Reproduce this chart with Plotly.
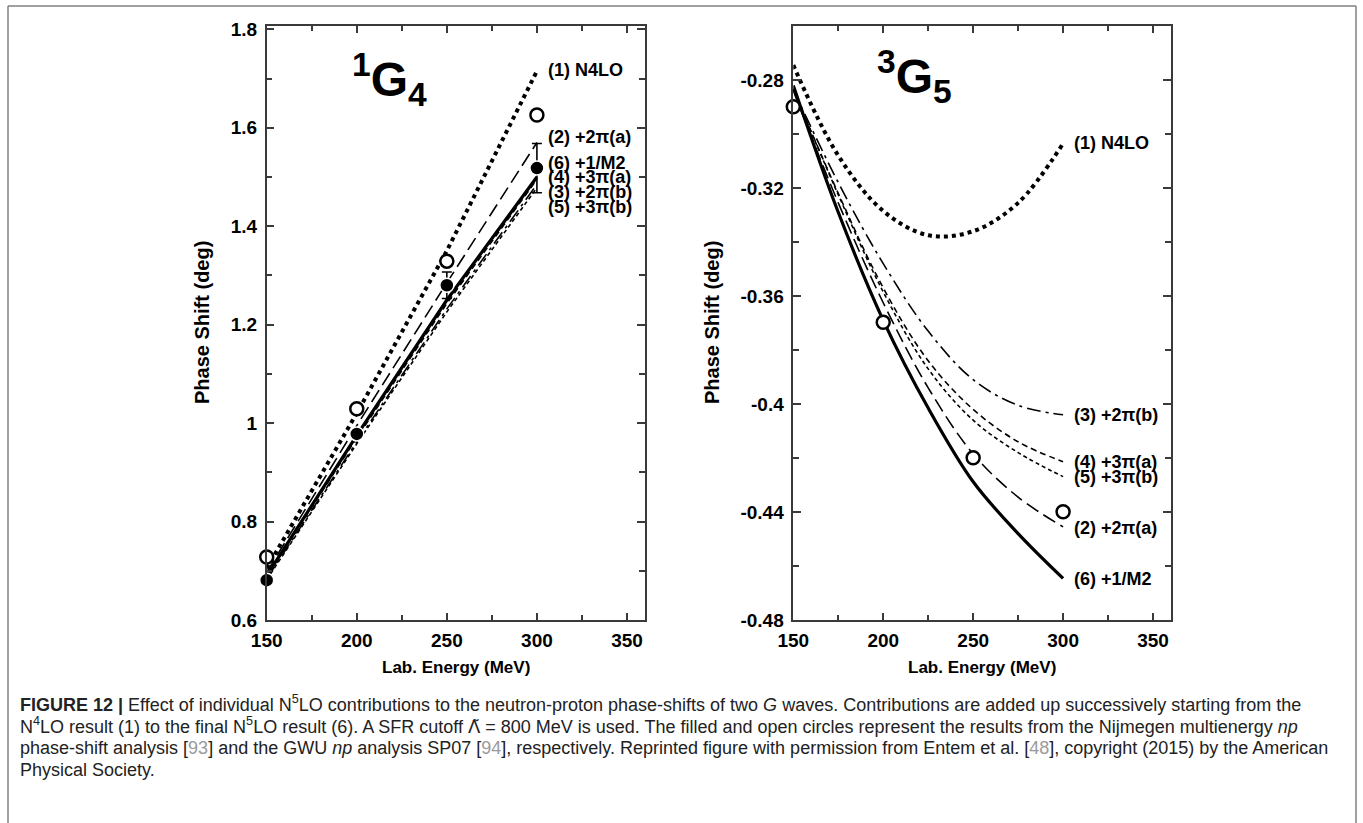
import plotly.graph_objects as go

W, H = 1363, 823

# ---------------- data ----------------
# 1G4 panel (left)
E_g4 = [150, 200, 250, 300]
g4_n4lo = [0.705, 1.02, 1.35, 1.715]
g4_2pia = [0.697, 0.995, 1.285, 1.57]
g4_2pib = [0.684, 0.962, 1.232, 1.485]
g4_3pia = [0.688, 0.970, 1.243, 1.495]
g4_3pib = [0.682, 0.958, 1.226, 1.478]
g4_m2 = [0.690, 0.975, 1.250, 1.500]
g4_open = [0.728, 1.029, 1.329, 1.626]
g4_filled = [0.681, 0.978, 1.280, 1.518]
g4_filled_err = [0.0, 0.0, 0.027, 0.05]

# 3G5 panel (right)
E_g5 = [150, 175, 200, 225, 250, 275, 300]
g5_n4lo = [-0.2745, -0.308, -0.3285, -0.3375, -0.336, -0.3255, -0.3035]
g5_2pia = [-0.284, -0.3255, -0.3625, -0.394, -0.4185, -0.4345, -0.4455]
g5_2pib = [-0.2835, -0.318, -0.348, -0.373, -0.391, -0.4005, -0.404]
g5_3pia = [-0.2835, -0.322, -0.357, -0.384, -0.402, -0.414, -0.4214]
g5_3pib = [-0.2835, -0.3225, -0.3585, -0.387, -0.406, -0.418, -0.4269]
g5_m2 = [-0.282, -0.329, -0.369, -0.4015, -0.4288, -0.448, -0.4646]
E_pts = [150, 200, 250, 300]
g5_open = [-0.2899, -0.3697, -0.4199, -0.4399]

# curve labels
g4_labels = ["(1) N4LO", "(2) +2π(a)", "(6) +1/M2", "(4) +3π(a)", "(3) +2π(b)", "(5) +3π(b)"]
g4_label_y = [1.717, 1.582, 1.528, 1.499, 1.470, 1.440]
g5_labels = ["(1) N4LO", "(3) +2π(b)", "(4) +3π(a)", "(5) +3π(b)", "(2) +2π(a)", "(6) +1/M2"]
g5_label_y = [-0.3035, -0.404, -0.4214, -0.4269, -0.446, -0.4649]

x_ticks = [150, 200, 250, 300, 350]
g4_yticks = [0.6, 0.8, 1.0, 1.2, 1.4, 1.6, 1.8]
g4_yticktext = ["0.6", "0.8", "1", "1.2", "1.4", "1.6", "1.8"]
g5_yticks = [-0.48, -0.44, -0.40, -0.36, -0.32, -0.28]
g5_yticktext = ["-0.48", "-0.44", "-0.4", "-0.36", "-0.32", "-0.28"]

GRAY = "<span style='color:#9a9a9a'>{}</span>"
LAM = "<span style='font-family:DejaVu Sans'>Λ\u0303</span>"
caption_lines = [
    "<b>FIGURE 12 |</b> Effect of individual N<sup>5</sup>LO contributions to the neutron-proton phase-shifts of two <i>G</i> waves. Contributions are added up successively starting from the",
    "N<sup>4</sup>LO result (1) to the final N<sup>5</sup>LO result (6). A SFR cutoff " + LAM + " = 800 MeV is used. The filled and open circles represent the results from the Nijmegen multienergy <i>np</i>",
    "phase-shift analysis [" + GRAY.format("93") + "] and the GWU <i>np</i> analysis SP07 [" + GRAY.format("94") + "], respectively. Reprinted figure with permission from Entem et al. [" + GRAY.format("48") + "], copyright (2015) by the American",
    "Physical Society.",
]

# ---------------- layout helpers ----------------
def px_x(p):
    return p / W

def px_y(p):
    return 1 - p / H

FONT = "Liberation Sans, Arial, Helvetica, sans-serif"
AX = "#3a3a3a"

styles = {
    "n4lo": dict(color="black", width=4, dash="4px,4px"),
    "2pia": dict(color="black", width=1.6, dash="14px,6px"),
    "2pib": dict(color="black", width=1.6, dash="14px,5px,3px,5px"),
    "3pia": dict(color="black", width=1.6, dash="6px,4px"),
    "3pib": dict(color="black", width=1.6, dash="4px,3px"),
    "m2": dict(color="black", width=3.2),
}

fig = go.Figure()

def add_line(x, y, key, xa, ya, shape="linear"):
    fig.add_trace(go.Scatter(x=x, y=y, mode="lines", line=dict(shape=shape, **styles[key]),
                             xaxis=xa, yaxis=ya, showlegend=False, hoverinfo="skip"))

# left panel
add_line(E_g4, g4_n4lo, "n4lo", "x", "y")
add_line(E_g4, g4_2pia, "2pia", "x", "y")
add_line(E_g4, g4_2pib, "2pib", "x", "y")
add_line(E_g4, g4_3pia, "3pia", "x", "y")
add_line(E_g4, g4_3pib, "3pib", "x", "y")
add_line(E_g4, g4_m2, "m2", "x", "y")
fig.add_trace(go.Scatter(x=E_g4, y=g4_filled, mode="markers", xaxis="x", yaxis="y", cliponaxis=False,
                         marker=dict(size=14, color="black", line=dict(color="white", width=1.5)),
                         error_y=dict(type="data", array=g4_filled_err, color="black", thickness=1.6, width=5),
                         showlegend=False))
fig.add_trace(go.Scatter(x=E_g4, y=g4_open, mode="markers", xaxis="x", yaxis="y", cliponaxis=False,
                         marker=dict(size=13, color="white", line=dict(color="black", width=2.5)),
                         showlegend=False))

# right panel
add_line(E_g5, g5_n4lo, "n4lo", "x2", "y2", "spline")
add_line(E_g5, g5_2pia, "2pia", "x2", "y2", "spline")
add_line(E_g5, g5_2pib, "2pib", "x2", "y2", "spline")
add_line(E_g5, g5_3pia, "3pia", "x2", "y2", "spline")
add_line(E_g5, g5_3pib, "3pib", "x2", "y2", "spline")
add_line(E_g5, g5_m2, "m2", "x2", "y2", "spline")
fig.add_trace(go.Scatter(x=E_pts, y=g5_open, mode="markers", xaxis="x2", yaxis="y2", cliponaxis=False,
                         marker=dict(size=13, color="white", line=dict(color="black", width=2.5)),
                         showlegend=False))

tickfont = dict(family=FONT, size=19, color="black", weight="bold")

def xaxis_cfg(domain, anchor):
    return dict(domain=domain, anchor=anchor, range=[150, 360], tickvals=x_ticks,
                ticks="inside", ticklen=7, tickwidth=1.5, tickcolor=AX,
                showline=True, linecolor=AX, linewidth=1.5, mirror="ticks",
                showgrid=False, zeroline=False, tickfont=tickfont, automargin=False,
                ticklabelstandoff=2,
                minor=dict(ticks="inside", ticklen=5, dtick=25, tick0=150, tickcolor=AX, tickwidth=1.5, showgrid=False))

def yaxis_cfg(domain, anchor, rng, tv, tt, mdt, m0):
    return dict(domain=domain, anchor=anchor, range=rng, tickvals=tv, ticktext=tt,
                ticks="inside", ticklen=8, tickwidth=1.5, tickcolor=AX,
                showline=True, linecolor=AX, linewidth=1.5, mirror="ticks",
                showgrid=False, zeroline=False, tickfont=tickfont, automargin=False,
                ticklabelstandoff=4,
                minor=dict(ticks="inside", ticklen=6, dtick=mdt, tick0=m0, tickcolor=AX, tickwidth=1.5, showgrid=False))

ydom = [px_y(620), px_y(26)]
fig.update_layout(
    width=W, height=H, margin=dict(l=0, r=0, t=0, b=0),
    paper_bgcolor="white", plot_bgcolor="white", showlegend=False,
    xaxis=xaxis_cfg([px_x(266.7), px_x(645)], "y"),
    yaxis=yaxis_cfg(ydom, "x", [0.6, 1.8067], g4_yticks, g4_yticktext, 0.1, 0.6),
    xaxis2=xaxis_cfg([px_x(793.3), px_x(1171)], "y2"),
    yaxis2=yaxis_cfg(ydom, "x2", [-0.48, -0.26], g5_yticks, g5_yticktext, 0.02, -0.48),
)

ann = []
lblfont = dict(family=FONT, size=18, color="black", weight="bold")
for t, yv in zip(g4_labels, g4_label_y):
    ann.append(dict(x=305, y=yv, xref="x", yref="y", text=t, showarrow=False,
                    xanchor="left", yanchor="middle", font=lblfont))
for t, yv in zip(g5_labels, g5_label_y):
    ann.append(dict(x=305, y=yv, xref="x2", yref="y2", text=t, showarrow=False,
                    xanchor="left", yanchor="middle", font=lblfont))

titlefont = dict(family=FONT, size=48, color="black", weight="bold")
ann.append(dict(x=px_x(389), y=px_y(79), xref="paper", yref="paper", text="<sup>1</sup>G<sub>4</sub>",
                showarrow=False, xanchor="center", yanchor="middle", font=titlefont))
ann.append(dict(x=px_x(914), y=px_y(77), xref="paper", yref="paper", text="<sup>3</sup>G<sub>5</sub>",
                showarrow=False, xanchor="center", yanchor="middle", font=titlefont))

axfont = dict(family=FONT, size=17, color="black", weight="bold")
axfont_v = dict(family=FONT, size=20, color="black", weight="bold")
for cx in [456, 982]:
    ann.append(dict(x=px_x(cx), y=px_y(667), xref="paper", yref="paper", text="Lab. Energy (MeV)",
                    showarrow=False, xanchor="center", yanchor="middle", font=axfont))
for cx in [202, 712]:
    ann.append(dict(x=px_x(cx), y=px_y(323), xref="paper", yref="paper", text="Phase Shift (deg)",
                    showarrow=False, xanchor="center", yanchor="middle", textangle=-90, font=axfont_v))

capfont = dict(family=FONT, size=18, color="#222222")
for i, line in enumerate(caption_lines):
    ann.append(dict(x=px_x(18), y=px_y(703 + 22.3 * i), xref="paper", yref="paper", text=line,
                    showarrow=False, xanchor="left", yanchor="middle", font=capfont))

fig.update_layout(annotations=ann)

frame = dict(color="#808080", width=1.5)
fig.update_layout(shapes=[
    dict(type="line", xref="paper", yref="paper", x0=px_x(8), x1=px_x(1356), y0=px_y(6), y1=px_y(6), line=frame),
    dict(type="line", xref="paper", yref="paper", x0=px_x(8), x1=px_x(8), y0=0, y1=px_y(6), line=frame),
    dict(type="line", xref="paper", yref="paper", x0=px_x(1356), x1=px_x(1356), y0=0, y1=px_y(6), line=frame),
])

fig.write_html("out.html")
